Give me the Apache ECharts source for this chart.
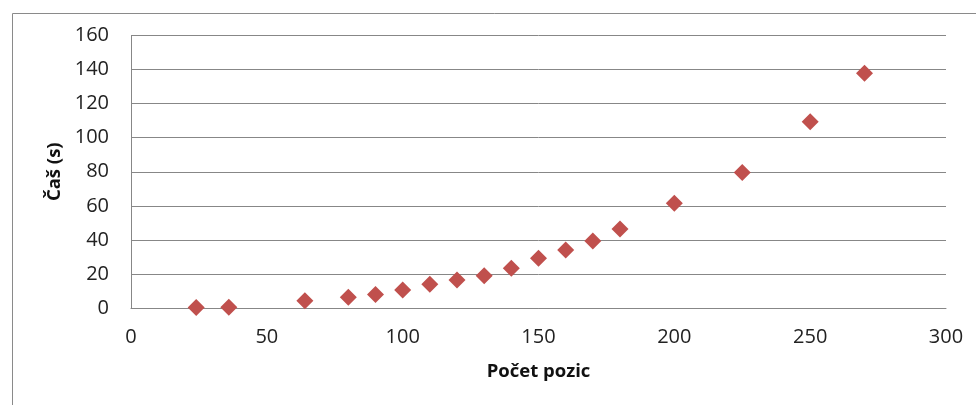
<!DOCTYPE html>
<html>
<head>
<meta charset="utf-8">
<script src="https://cdn.jsdelivr.net/npm/echarts@6/dist/echarts.min.js"></script>
<style>
  html, body { margin: 0; padding: 0; background: #fff; }
  #chart { width: 976px; height: 405px; }
</style>
</head>
<body>
<div id="chart"></div>
<script>
// Number of positions vs. computation time
const pozice = [24, 36, 64, 80, 90, 100, 110, 120, 130, 140, 150, 160, 170, 180, 200, 225, 250, 270];
const casy   = [0.3, 0.4, 4.3, 6.3, 8.0, 10.6, 13.9, 16.4, 19.0, 23.3, 29.2, 34.1, 39.3, 46.4, 61.5, 79.5, 109.4, 137.8];

const xTicks = { min: 0, max: 300, interval: 50 };
const yTicks = { min: 0, max: 160, interval: 20 };

const points = pozice.map((p, i) => [p, casy[i]]);

const font = '"Open Sans", "DejaVu Sans", sans-serif';
const gridColor = '#878787';

const chart = echarts.init(document.getElementById('chart'), null, { renderer: 'canvas' });
chart.setOption({
  animation: false,
  backgroundColor: '#ffffff',
  graphic: [{
    type: 'rect',
    left: 10, top: 11,
    shape: { width: 1000, height: 500 },
    style: { fill: 'none', stroke: '#8a8a8a', lineWidth: 1 },
    silent: true
  }],
  grid: { left: 131, right: 30, top: 35.5, bottom: 97, containLabel: false },
  xAxis: {
    type: 'value',
    min: xTicks.min, max: xTicks.max, interval: xTicks.interval,
    name: 'Počet pozic',
    nameLocation: 'middle',
    nameGap: 54,
    nameTextStyle: { fontFamily: font, fontWeight: 'bold', fontSize: 18.5, color: '#111' },
    axisLine: { show: true, lineStyle: { color: gridColor, width: 1 } },
    axisTick: { show: false },
    axisLabel: { fontFamily: font, fontSize: 20, color: '#222', margin: 19 },
    splitLine: { show: false }
  },
  yAxis: {
    type: 'value',
    min: yTicks.min, max: yTicks.max, interval: yTicks.interval,
    name: 'Čaš (s)',
    nameLocation: 'middle',
    nameGap: 67,
    nameRotate: 90,
    nameTextStyle: { fontFamily: font, fontWeight: 'bold', fontSize: 18.5, color: '#111' },
    axisLine: { show: true, lineStyle: { color: gridColor, width: 1 } },
    axisTick: { show: false },
    axisLabel: { fontFamily: font, fontSize: 20, color: '#222', margin: 22 },
    splitLine: { show: true, lineStyle: { color: gridColor, width: 1 } }
  },
  series: [{
    type: 'scatter',
    data: points,
    symbol: 'diamond',
    symbolSize: 17,
    itemStyle: { color: '#C0504D', opacity: 1 }
  }]
});
</script>
</body>
</html>
